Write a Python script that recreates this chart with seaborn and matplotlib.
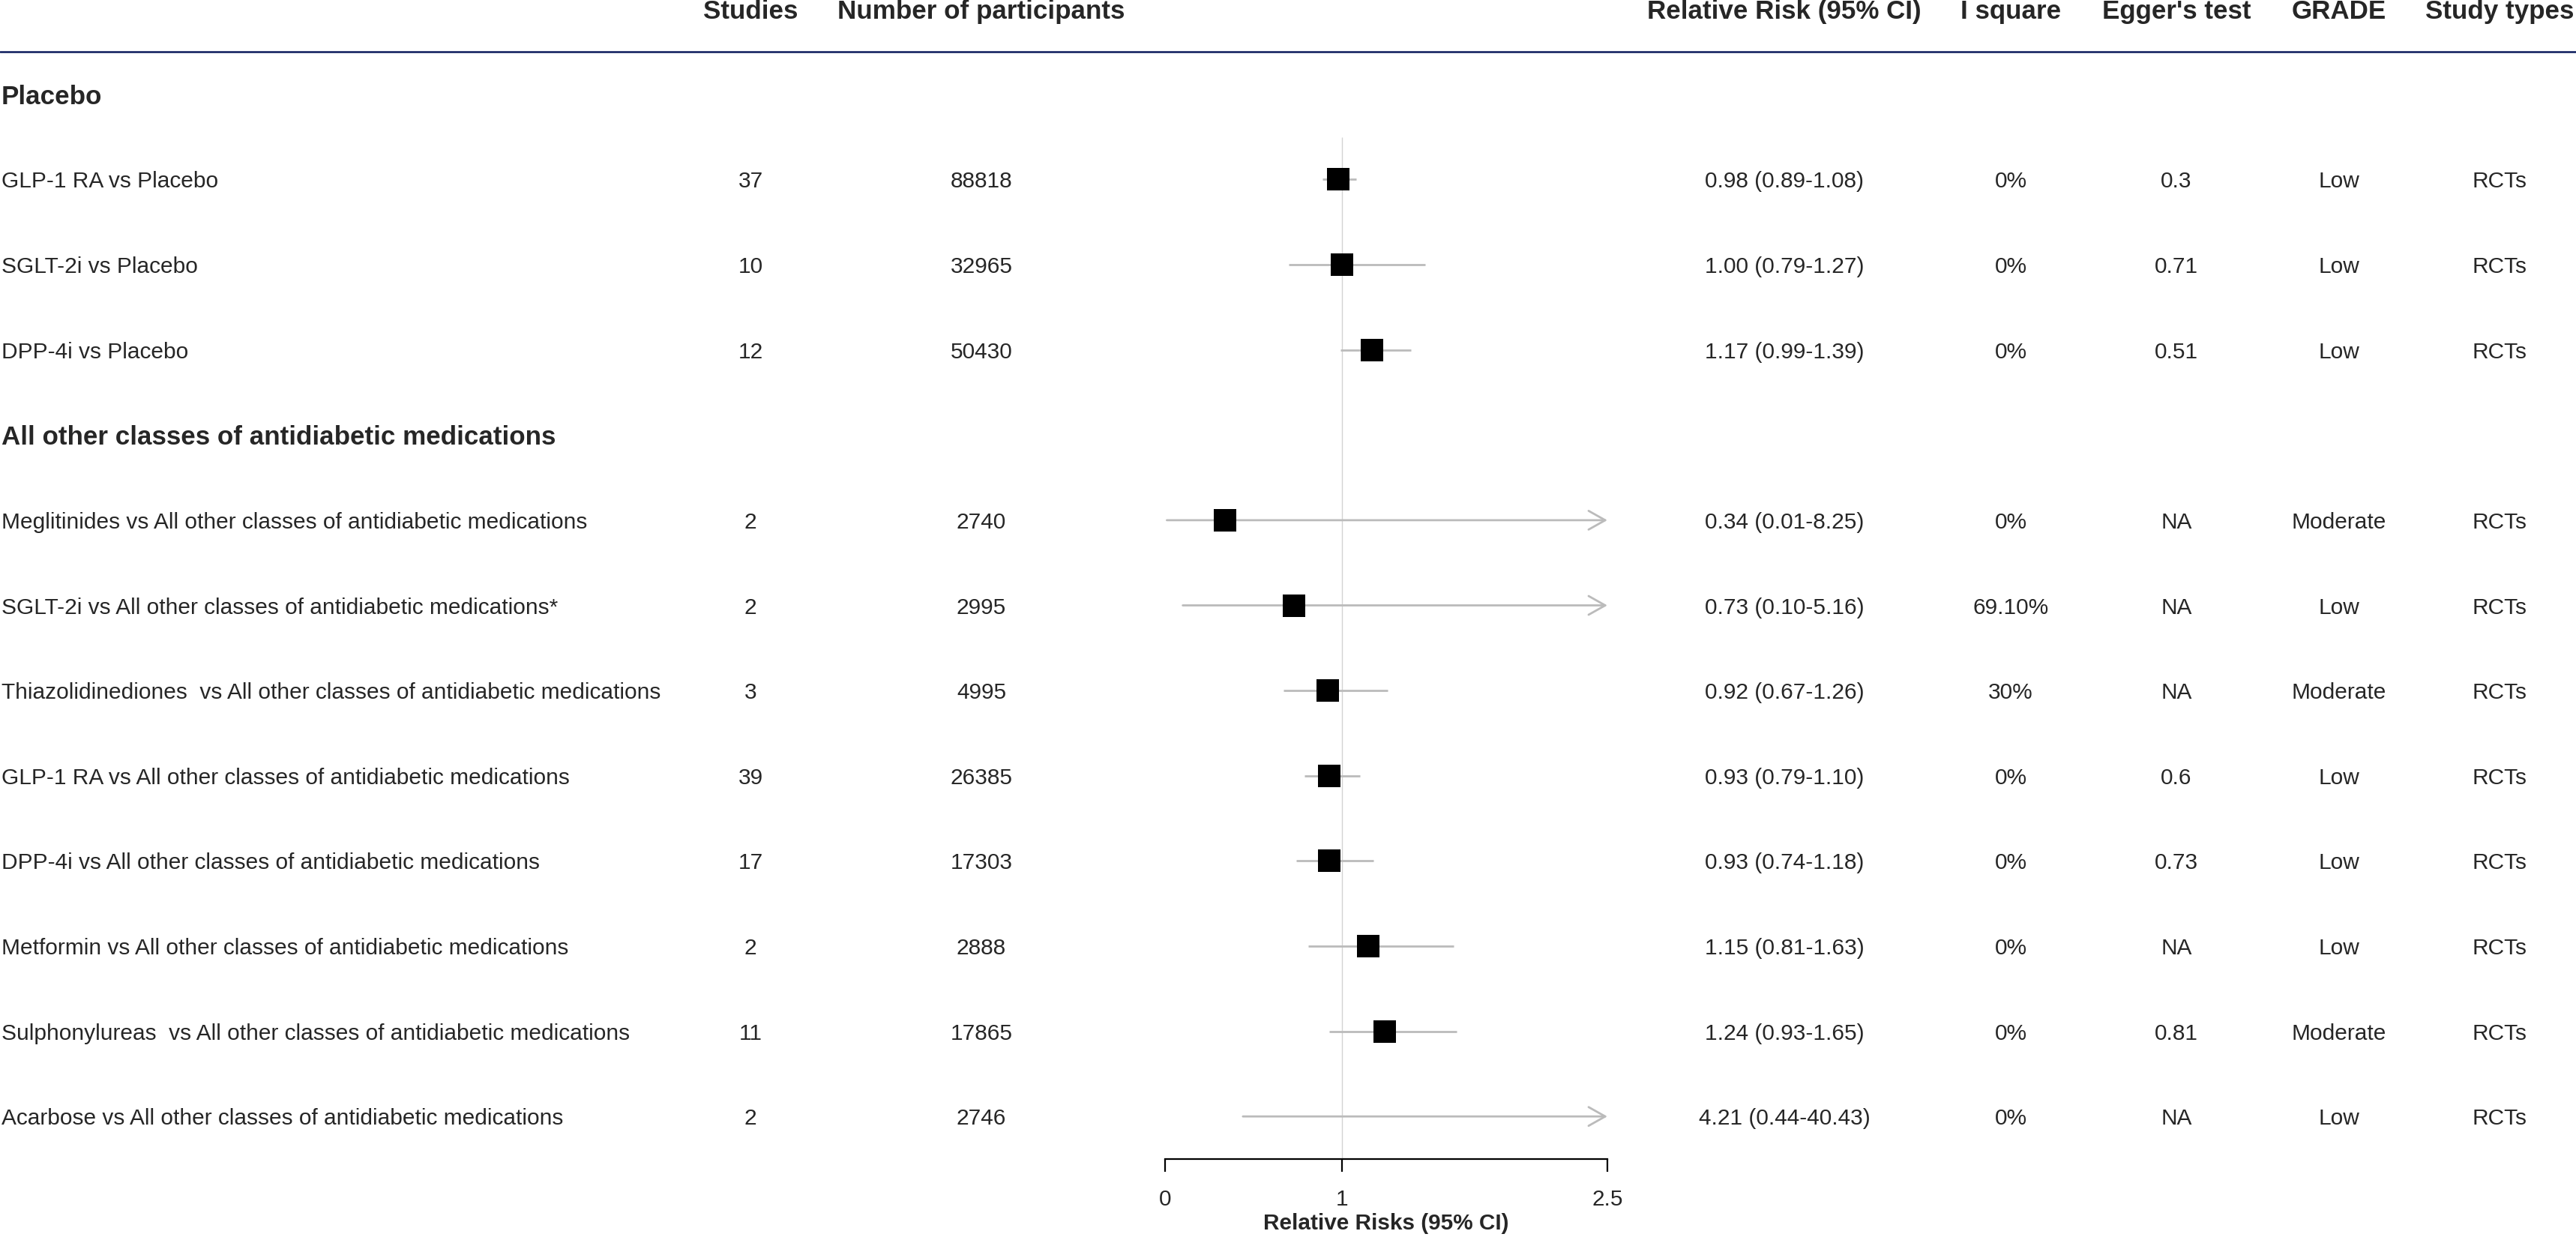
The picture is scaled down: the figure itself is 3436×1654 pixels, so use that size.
import matplotlib
matplotlib.use("Agg")
import matplotlib.pyplot as plt
import matplotlib.transforms as mtransforms
from matplotlib.lines import Line2D
import numpy as np
import pandas as pd
import seaborn as sns

# rows of the table, top to bottom
labels = ["Placebo",
          "GLP-1 RA vs Placebo",
          "SGLT-2i vs Placebo",
          "DPP-4i vs Placebo",
          "All other classes of antidiabetic medications",
          "Meglitinides vs All other classes of antidiabetic medications",
          "SGLT-2i vs All other classes of antidiabetic medications*",
          "Thiazolidinediones  vs All other classes of antidiabetic medications",
          "GLP-1 RA vs All other classes of antidiabetic medications",
          "DPP-4i vs All other classes of antidiabetic medications",
          "Metformin vs All other classes of antidiabetic medications",
          "Sulphonylureas  vs All other classes of antidiabetic medications",
          "Acarbose vs All other classes of antidiabetic medications"]
is_heading = [True, False, False, False, True, False, False, False, False, False, False, False, False]
studies = ["", "37", "10", "12", "", "2", "2", "3", "39", "17", "2", "11", "2"]
participants = ["", "88818", "32965", "50430", "", "2740", "2995", "4995", "26385", "17303", "2888", "17865", "2746"]
# estimates and interval ends as drawn in the plot
rr = [np.nan, 0.98, 1.00, 1.17, np.nan, 0.34, 0.73, 0.92, 0.93, 0.93, 1.15, 1.24, 4.21]
lower = [np.nan, 0.89, 0.70, 0.99, np.nan, 0.01, 0.10, 0.67, 0.79, 0.74, 0.81, 0.93, 0.44]
upper = [np.nan, 1.08, 1.47, 1.39, np.nan, 8.25, 5.16, 1.26, 1.10, 1.18, 1.63, 1.65, 40.43]
rr_text = ["", "0.98 (0.89-1.08)", "1.00 (0.79-1.27)", "1.17 (0.99-1.39)", "",
           "0.34 (0.01-8.25)", "0.73 (0.10-5.16)", "0.92 (0.67-1.26)", "0.93 (0.79-1.10)",
           "0.93 (0.74-1.18)", "1.15 (0.81-1.63)", "1.24 (0.93-1.65)", "4.21 (0.44-40.43)"]
i_square = ["", "0%", "0%", "0%", "", "0%", "69.10%", "30%", "0%", "0%", "0%", "0%", "0%"]
egger = ["", "0.3", "0.71", "0.51", "", "NA", "NA", "NA", "0.6", "0.73", "NA", "0.81", "NA"]
grade = ["", "Low", "Low", "Low", "", "Moderate", "Low", "Moderate", "Low", "Low", "Low", "Moderate", "Low"]
study_types = ["", "RCTs", "RCTs", "RCTs", "", "RCTs", "RCTs", "RCTs", "RCTs", "RCTs", "RCTs", "RCTs", "RCTs"]

headers = ["Studies", "Number of participants", "Relative Risk (95% CI)",
           "I square", "Egger's test", "GRADE", "Study types"]
xmax = 2.5

df = pd.DataFrame({"label": labels, "rr": rr, "lower": lower, "upper": upper})
df["row"] = np.arange(len(df))

sns.set_theme(style="ticks")
plt.rcParams["font.family"] = ["Liberation Sans", "DejaVu Sans"]

W, H = 3436, 1654
fig = plt.figure(figsize=(W / 200, H / 200), dpi=200)
ax = fig.add_axes([1554 / W, 108 / H, 590 / W, 1477 / H])
ax.set_xlim(0, xmax)
ax.set_ylim(len(df) - 0.5, -0.5)

# reference line at 1
ax.vlines(1, 0.5, len(df) - 0.5, color="#d3d3d3", lw=0.5, zorder=1)

# confidence intervals; the ones past the axis end get an arrow
ci_col = "#bbbbbb"
est = df.dropna(subset=["lower"])
inside = est[est["upper"] <= xmax]
ax.hlines(inside["row"], inside["lower"], inside["upper"], color=ci_col, lw=1.0, zorder=2)
for _, r in est[est["upper"] > xmax].iterrows():
    ax.annotate("", xy=(xmax, r["row"]), xytext=(r["lower"], r["row"]),
                arrowprops=dict(arrowstyle="->,head_length=0.8,head_width=0.45",
                                color=ci_col, lw=1.0, mutation_scale=10,
                                shrinkA=0, shrinkB=0),
                annotation_clip=False, zorder=2)

pts = est[est["rr"] <= xmax]
sns.scatterplot(data=pts, x="rr", y="row", marker="s", s=117, color="black",
                linewidth=0, ax=ax, zorder=3, legend=False)

ax.set_xticks([0, 1, 2.5])
ax.set_xticklabels(["0", "1", "2.5"], fontsize=10.7)
ax.tick_params(axis="x", length=6, width=0.8, pad=8.4, color="black")
ax.set_yticks([])
ax.set_xlabel("Relative Risks (95% CI)", fontsize=10.7, fontweight="bold", labelpad=1.5)
ax.set_ylabel("")
for side in ["top", "right", "left"]:
    ax.spines[side].set_visible(False)
ax.spines["bottom"].set_linewidth(0.8)
ax.spines["bottom"].set_color("black")

# table text: x in figure fraction, y in row units
tr = mtransforms.blended_transform_factory(fig.transFigure, ax.transData)
col_x = [1001, 1309, 2380, 2682, 2903, 3120, 3334]
columns = [studies, participants, rr_text, i_square, egger, grade, study_types]

for x, h in zip(col_x, headers):
    ax.text(x / W, -1.0, h, transform=tr, ha="center", va="center_baseline",
            fontsize=12.6, fontweight="bold", clip_on=False)
fig.add_artist(Line2D([0, 1], [-0.5, -0.5], transform=tr, color="#0b1a5c", lw=0.9))

for i, lab in enumerate(labels):
    if is_heading[i]:
        ax.text(2 / W, i, lab, transform=tr, ha="left", va="center_baseline",
                fontsize=12.6, fontweight="bold", clip_on=False)
        continue
    ax.text(2 / W, i, lab, transform=tr, ha="left", va="center_baseline",
            fontsize=10.75, clip_on=False)
    for x, col in zip(col_x, columns):
        ax.text(x / W, i, col[i], transform=tr, ha="center", va="center_baseline",
                fontsize=10.75, clip_on=False)

fig.savefig("out.png", dpi=200, facecolor="white")
